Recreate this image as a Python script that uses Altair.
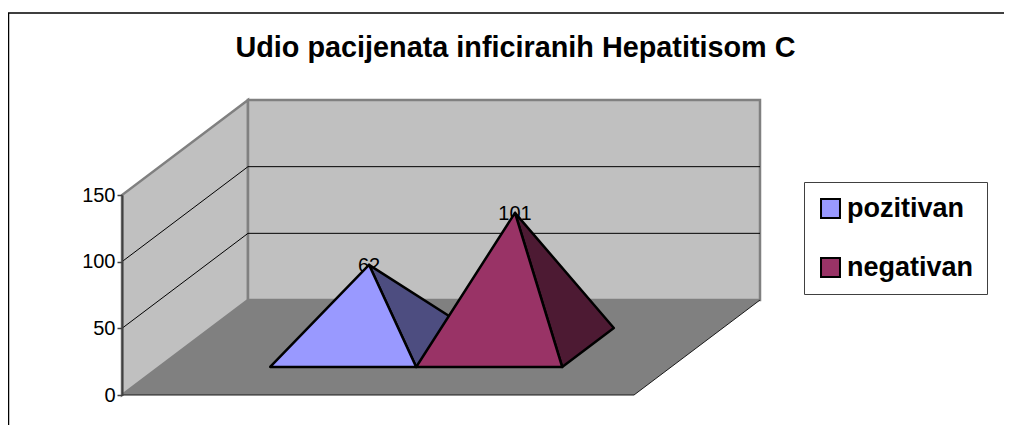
import altair as alt

title_text = "Udio pacijenata inficiranih Hepatitisom C"
series = ["pozitivan", "negativan"]
values = [62, 101]
front_colors = ["#9999FF", "#993366"]
side_colors = ["#4D4D80", "#4D1A33"]
y_ticks = [0, 50, 100, 150]
FONT = "Liberation Sans"

W, H = 996, 417
OX, OY = 8, 8
FLOOR_X, FLOOR_Y = 122 - OX, 395 - OY
FLOOR_W = 512
DEPTH_X, DEPTH_Y = 126, 95
PX_PER_UNIT = 200 / 150
GAP_U = 111 / 512
BAR_U = 146 / 512
V0, V1 = 0.295, 0.705


def proj(u, v, h=0.0):
    return [FLOOR_X + u * FLOOR_W + v * DEPTH_X,
            FLOOR_Y - v * DEPTH_Y - h * PX_PER_UNIT]


def feat(kind, coords, **props):
    geom = {"type": "Polygon", "coordinates": [coords + [coords[0]]]} if kind == "poly" \
        else {"type": "LineString", "coordinates": coords}
    return {"type": "Feature", "geometry": geom, "properties": props}


TOP = 150
bg = [
    feat("poly", [proj(0, 0), proj(0, 0, TOP), proj(0, 1, TOP), proj(0, 1)],
         fill="#C0C0C0", stroke="#808080", sw=2.5),
    feat("poly", [proj(0, 1), proj(0, 1, TOP), proj(1, 1, TOP), proj(1, 1)],
         fill="#C0C0C0", stroke="#808080", sw=2.5),
]
for t in y_ticks[1:-1]:
    bg.append(feat("line", [proj(0, 0, t), proj(0, 1, t), proj(1, 1, t)],
                   fill="transparent", stroke="#000000", sw=1))
bg.append(feat("poly", [proj(0, 0), proj(1, 0), proj(1, 1), proj(0, 1)],
               fill="#808080", stroke="transparent", sw=0))
bg.append(feat("line", [proj(0, 0), proj(1, 0), proj(1, 1)],
               fill="transparent", stroke="#1A1A1A", sw=1))
# outer chart frame (only its top and left edges fall inside the picture)
bg.append(feat("line", [[0.5, H], [0.5, 13 - OY], [W, 13 - OY]],
               fill="transparent", stroke="#000000", sw=1.5))

faces = []
labels = []
for i, (name, val) in enumerate(zip(series, values)):
    u0 = GAP_U + i * BAR_U
    u1 = u0 + BAR_U
    apex = proj((u0 + u1) / 2, 0.5, val)
    faces.append(feat("poly", [proj(u1, V0), proj(u1, V1), apex], face=name + " bok"))
    faces.append(feat("poly", [proj(u0, V0), proj(u1, V0), apex], face=name))
    labels.append({"x": apex[0], "v": val, "t": str(val)})

face_domain = [s for pair in zip(series, [s + " bok" for s in series]) for s in pair]
face_range = [c for pair in zip(front_colors, side_colors) for c in pair]

x_scale = alt.Scale(domain=[0, W], range=[0, W])
y_scale = alt.Scale(domain=[0, 150], range=[FLOOR_Y, FLOOR_Y - 150 * PX_PER_UNIT])
identity = dict(type="identity", scale=1, translate=[0, 0])

background = alt.Chart(alt.Data(values=bg)).mark_geoshape(strokeJoin="miter").encode(
    fill=alt.Fill("properties.fill:N", scale=None),
    stroke=alt.Stroke("properties.stroke:N", scale=None),
    strokeWidth=alt.StrokeWidth("properties.sw:Q", scale=None),
).project(**identity)

axis_layer = alt.Chart(alt.Data(values=[{"v": t} for t in y_ticks])).mark_rule(opacity=0).encode(
    y=alt.Y("v:Q", scale=y_scale, axis=alt.Axis(
        values=y_ticks, title=None, grid=False, offset=-(FLOOR_X), zindex=1,
        labelFont=FONT, labelFontSize=20, labelColor="#000000", labelPadding=2,
        tickSize=5, tickColor="#404040", tickWidth=1.5,
        domainColor="#404040", domainWidth=2)),
)

# labels are lifted by half the floor offset of the pyramid centre
label_layer = alt.Chart(alt.Data(values=labels)).transform_calculate(
    lift=f"datum.v + {0.5 * DEPTH_Y / PX_PER_UNIT}"
).mark_text(
    font=FONT, fontSize=20, color="#000000", align="center", baseline="alphabetic", dy=7,
).encode(
    x=alt.X("x:Q", scale=x_scale, axis=None),
    y=alt.Y("lift:Q", scale=y_scale),
    text="t:N",
)

pyramids = alt.Chart(alt.Data(values=faces)).mark_geoshape(
    stroke="#000000", strokeWidth=2.5, strokeJoin="round",
).encode(
    color=alt.Color("properties.face:N",
                    scale=alt.Scale(domain=face_domain, range=face_range),
                    legend=alt.Legend(
                        values=series, title=None, orient="none",
                        legendX=804 - OX, legendY=182 - OY,
                        fillColor="#FFFFFF", strokeColor="#404040", padding=13,
                        symbolType="square", symbolSize=360,
                        symbolStrokeColor="#000000", symbolStrokeWidth=2,
                        symbolOpacity=1,
                        labelFont=FONT, labelFontSize=27, labelFontWeight="bold",
                        labelColor="#000000", labelOffset=3, rowPadding=31,
                        labelLimit=400)),
).project(**identity)

chart = alt.layer(background, axis_layer, label_layer, pyramids).properties(
    width=W, height=H,
    padding=0,
    autosize=alt.AutoSizeParams(type="none"),
    title=alt.TitleParams(title_text, font=FONT, fontSize=28.8, fontWeight="bold",
                          color="#000000", anchor="middle", frame="group",
                          orient="top", offset=-55, dx=9.5),
).configure_view(stroke=None)

chart.save("out.html", embed_options={"renderer": "svg", "actions": False})
